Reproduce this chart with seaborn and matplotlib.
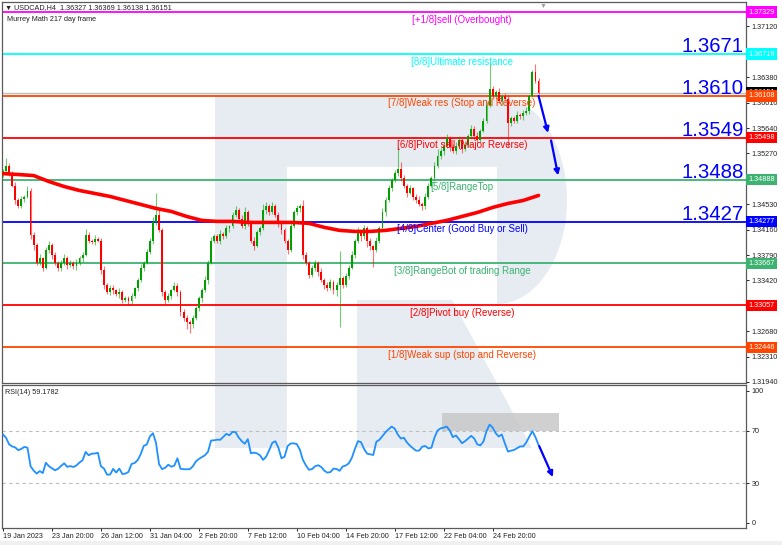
import matplotlib
matplotlib.use("Agg")
import matplotlib.pyplot as plt
import seaborn as sns
import numpy as np
from matplotlib.patches import Rectangle, Polygon

# ---- data ----
first_open = 1.3497
closes = [
    1.3502, 1.3509, 1.3499, 1.3480, 1.3459, 1.3451, 1.3461, 1.3464, 1.3473, 1.3408,
    1.3393, 1.3368, 1.3374, 1.3360, 1.3386, 1.3393, 1.3379, 1.3368, 1.3360, 1.3368,
    1.3374, 1.3364, 1.3368, 1.3363, 1.3368, 1.3374, 1.3379, 1.3408, 1.3400, 1.3398,
    1.3403, 1.3400, 1.3357, 1.3335, 1.3325, 1.3331, 1.3328, 1.3322, 1.3325, 1.3313,
    1.3316, 1.3312, 1.3319, 1.3331, 1.3342, 1.3360, 1.3368, 1.3383, 1.3400, 1.3427,
    1.3437, 1.3415, 1.3325, 1.3313, 1.3319, 1.3328, 1.3334, 1.3325, 1.3296, 1.3287,
    1.3281, 1.3278, 1.3287, 1.3302, 1.3316, 1.3328, 1.3342, 1.3368, 1.3400, 1.3406,
    1.3400, 1.3409, 1.3406, 1.3418, 1.3421, 1.3438, 1.3444, 1.3432, 1.3421, 1.3441,
    1.3427, 1.3400, 1.3392, 1.3412, 1.3418, 1.3444, 1.3451, 1.3441, 1.3450, 1.3437,
    1.3424, 1.3415, 1.3400, 1.3386, 1.3422, 1.3441, 1.3447, 1.3451, 1.3379, 1.3368,
    1.3350, 1.3360, 1.3368, 1.3354, 1.3342, 1.3335, 1.3331, 1.3339, 1.3328, 1.3335,
    1.3345, 1.3336, 1.3348, 1.3360, 1.3379, 1.3400, 1.3412, 1.3406, 1.3418, 1.3400,
    1.3392, 1.3386, 1.3400, 1.3418, 1.3441, 1.3459, 1.3476, 1.3488, 1.3499, 1.3505,
    1.3491, 1.3480, 1.3470, 1.3476, 1.3464, 1.3459, 1.3453, 1.3450, 1.3464, 1.3480,
    1.3491, 1.3509, 1.3524, 1.3531, 1.3538, 1.3549, 1.3537, 1.3531, 1.3538, 1.3546,
    1.3534, 1.3540, 1.3553, 1.3563, 1.3553, 1.3546, 1.3560, 1.3575, 1.3597, 1.3621,
    1.3611, 1.3616, 1.3604, 1.3611, 1.3607, 1.3572, 1.3578, 1.3575, 1.3583, 1.3581,
    1.3586, 1.3589, 1.3611, 1.3645, 1.36327, 1.36151]
# upper / lower shadows in pips
wick_up = [
    3, 11, 4, 2, 5, 3, 4, 2, 6, 4,
    5, 3, 6, 2, 4, 7, 3, 5, 2, 4,
    6, 3, 4, 2, 5, 3, 4, 9, 4, 3,
    5, 2, 4, 6, 3, 5, 4, 2, 6, 3,
    4, 3, 5, 2, 4, 6, 3, 5, 4, 7,
    33, 10, 4, 3, 5, 2, 6, 4, 3, 5,
    4, 3, 5, 2, 4, 3, 6, 4, 5, 3,
    4, 6, 3, 5, 2, 4, 7, 3, 5, 8,
    4, 3, 5, 4, 3, 9, 5, 3, 6, 4,
    5, 3, 4, 2, 6, 4, 5, 3, 8, 4,
    3, 5, 4, 2, 6, 3, 4, 5, 3, 4,
    40, 3, 5, 4, 6, 3, 8, 4, 5, 3,
    4, 2, 5, 3, 6, 4, 5, 3, 4, 31,
    10, 4, 3, 5, 2, 4, 6, 3, 5, 4,
    3, 6, 9, 4, 5, 6, 3, 4, 5, 6,
    4, 5, 3, 6, 4, 5, 3, 4, 5, 38,
    5, 4, 6, 3, 4, 5, 3, 4, 6, 3,
    4, 5, 3, 3, 13, 4]
wick_dn = [
    4, 3, 5, 2, 6, 4, 3, 5, 2, 5,
    6, 4, 3, 5, 2, 4, 6, 3, 5, 4,
    3, 5, 2, 4, 6, 3, 5, 2, 4, 3,
    4, 2, 6, 5, 3, 4, 6, 3, 5, 4,
    3, 6, 4, 2, 5, 3, 4, 2, 3, 5,
    4, 3, 6, 5, 3, 4, 2, 5, 6, 4,
    10, 13, 5, 3, 4, 6, 3, 5, 2, 4,
    3, 5, 4, 2, 6, 3, 4, 5, 3, 4,
    5, 3, 6, 2, 4, 3, 5, 4, 2, 3,
    4, 6, 3, 5, 2, 4, 3, 5, 6, 4,
    5, 3, 4, 6, 3, 5, 4, 3, 6, 8,
    61, 5, 3, 4, 2, 5, 3, 6, 4, 9,
    5, 25, 3, 4, 2, 5, 3, 4, 3, 5,
    4, 3, 6, 2, 5, 4, 3, 5, 4, 3,
    2, 4, 3, 5, 6, 3, 7, 4, 5, 3,
    6, 4, 3, 5, 6, 4, 3, 2, 4, 3,
    4, 5, 3, 6, 4, 36, 5, 4, 3, 4,
    5, 3, 4, 2, 3, 1]

ma_bars = list(range(0, 176, 5))
ma_values = [1.34977, 1.34963, 1.34948, 1.34861, 1.34788, 1.34730, 1.34687, 1.34643,
             1.34585, 1.34527, 1.34469, 1.34425, 1.34352, 1.34294, 1.34280, 1.34280,
             1.34265, 1.34265, 1.34265, 1.34265, 1.34251, 1.34193, 1.34149, 1.34134,
             1.34134, 1.34149, 1.34178, 1.34207, 1.34251, 1.34294, 1.34352, 1.34410,
             1.34483, 1.34541, 1.34585, 1.34658]

rsi = [
    67.0, 64.5, 59.5, 58.0, 57.2, 55.1, 56.2, 57.6, 57.0, 43.0,
    39.7, 37.4, 39.3, 37.8, 45.6, 43.0, 41.5, 39.9, 41.1, 43.3,
    45.2, 42.5, 43.1, 42.4, 43.6, 45.8, 47.5, 53.8, 51.3, 52.5,
    52.6, 53.2, 43.0, 41.2, 36.6, 36.7, 41.0, 38.2, 41.2, 37.1,
    37.4, 38.7, 44.7, 45.4, 47.6, 52.1, 58.4, 59.5, 65.5, 68.0,
    60.7, 44.5, 40.8, 41.8, 44.1, 42.6, 43.5, 49.0, 41.1, 40.7,
    40.7, 40.7, 42.8, 46.5, 48.5, 49.9, 51.3, 54.0, 62.5, 62.6,
    63.1, 63.0, 65.3, 67.5, 66.4, 69.0, 68.8, 64.8, 62.0, 60.0,
    63.5, 52.8, 53.3, 52.7, 51.2, 47.8, 50.3, 55.2, 60.7, 61.9,
    57.0, 49.0, 50.2, 58.2, 60.2, 60.3, 59.8, 55.5, 47.8, 43.5,
    40.3, 40.8, 43.0, 43.7, 42.4, 39.6, 38.1, 38.6, 41.2, 40.9,
    39.5, 42.8, 43.5, 45.2, 49.4, 56.1, 62.0, 61.2, 56.0, 52.5,
    52.0, 51.5, 61.5, 63.0, 65.8, 68.7, 71.0, 73.0, 71.5, 67.0,
    64.0, 64.5, 61.0, 58.5, 56.5, 54.8, 54.8, 57.8, 58.3, 56.5,
    57.0, 64.8, 70.0, 71.7, 72.2, 73.0, 70.0, 65.0, 66.3, 63.5,
    60.4, 62.0, 64.0, 66.0, 64.0, 59.5, 58.8, 61.7, 69.5, 74.5,
    72.3, 68.0, 65.5, 67.0, 60.3, 54.1, 54.8, 55.3, 56.7, 58.0,
    58.0, 61.0, 65.5, 69.5, 65.0, 59.1782]

murrey_levels = [1.37329, 1.36719, 1.36108, 1.35498, 1.34888, 1.34277, 1.33667, 1.33057, 1.32446]
murrey_labels = ["[+1/8]sell (Overbought)", "[8/8]Ultimate resistance",
                 "[7/8]Weak res (Stop and Reverse)", "[6/8]Pivot sell (Major Reverse)",
                 "[5/8]RangeTop", "[4/8]Center (Good Buy or Sell)",
                 "[3/8]RangeBot of trading Range", "[2/8]Pivot buy (Reverse)",
                 "[1/8]Weak sup (stop and Reverse)"]
murrey_colors = ["#ff00ff", "#00ffff", "#ff4500", "#ff0000", "#3cb371",
                 "#0000ff", "#3cb371", "#ff0000", "#ff4500"]
big_labels = ["1.3671", "1.3610", "1.3549", "1.3488", "1.3427"]
big_levels = [1.36719, 1.36108, 1.35498, 1.34888, 1.34277]
last_price = 1.36151
price_ticks = [1.3712, 1.3638, 1.3601, 1.3564, 1.3527, 1.3453, 1.3416,
               1.3379, 1.3342, 1.3268, 1.3231, 1.3194]
date_pos = [0, 16, 32, 48, 64, 80, 96, 112, 128, 144, 160]
date_labels = ["19 Jan 2023", "23 Jan 20:00", "26 Jan 12:00", "31 Jan 04:00",
               "2 Feb 20:00", "7 Feb 12:00", "10 Feb 04:00", "14 Feb 20:00",
               "17 Feb 12:00", "22 Feb 04:00", "24 Feb 20:00"]
price_arrows = [((175.0, 1.3611), (178.1, 1.3557)), ((179.1, 1.3546), (181.4, 1.3495))]
rsi_arrow = ((175.2, 58.3), (179.7, 34.8))
rsi_box = (143.5, 181.7, 70, 83)

# ---- figure ----
sns.set_theme(style="white")
plt.rcParams['font.family'] = ['Liberation Sans', 'DejaVu Sans']
W, H = 782, 545
SMALL = 5.2
fig = plt.figure(figsize=(W / 100, H / 100), dpi=100)
fig.patch.set_facecolor("white")


def px(x, y):
    return (x / W, 1 - y / H)


# faint logo watermark behind both panels
wm = "#e7ecf3"
fig.add_artist(Polygon([px(215, 96), px(287, 96), px(287, 448), px(215, 448)],
                       closed=True, fc=wm, ec="none", transform=fig.transFigure, zorder=-2))
t = np.linspace(-np.pi / 2, np.pi / 2, 40)
arc = [px(497 + 70 * np.cos(a), 200 + 104 * np.sin(a)) for a in t]
fig.add_artist(Polygon([px(287, 96)] + arc + [px(497, 167), px(287, 167)],
                       closed=True, fc=wm, ec="none", transform=fig.transFigure, zorder=-2))
fig.add_artist(Polygon([px(357, 300), px(452, 300), px(532, 448), px(357, 448)],
                       closed=True, fc=wm, ec="none", transform=fig.transFigure, zorder=-2))
fig.add_artist(Rectangle(px(0, 545), 1, 4 / H, fc="#f0f0f0", ec="none",
                         transform=fig.transFigure, zorder=-2))

ax = fig.add_axes([2 / W, 1 - 383 / H, 744 / W, 381 / H])
ax2 = fig.add_axes([2 / W, 1 - 528 / H, 744 / W, 143 / H])
for a in (ax, ax2):
    a.set_facecolor("none")
    for s in a.spines.values():
        s.set_color("#5a5a5a")
        s.set_linewidth(0.9)
    a.set_xlim(-0.33, 242.8)

# candles
n = len(closes)
idx = np.arange(n)
o = np.array([first_open] + closes[:-1])
c = np.array(closes)
hi = np.maximum(o, c) + np.array(wick_up) * 1e-4
lo = np.minimum(o, c) - np.array(wick_dn) * 1e-4
col = np.where(c >= o, "#00a000", "#ff0000")
ax.vlines(idx, lo, hi, colors=col, lw=0.8, alpha=0.55, zorder=3)
ax.bar(idx, np.maximum(np.abs(c - o), 0.00004), bottom=np.minimum(o, c),
       width=0.62, color=col, linewidth=0, zorder=4)

sns.lineplot(x=ma_bars, y=ma_values, ax=ax, color="#ff0000", lw=2.6, zorder=5)

# Murrey lines
ax.axhline(last_price, color="#c0c0c0", lw=1, zorder=2)
for lvl, lab, colr in zip(murrey_levels, murrey_labels, murrey_colors):
    ax.axhline(lvl, color=colr, lw=1.3, zorder=2)
    ax.annotate(lab, xy=(150, lvl), xytext=(0, -1.8), textcoords="offset points",
                ha="center", va="top", fontsize=7, color=colr, zorder=6)
for lvl, txt in zip(big_levels, big_labels):
    ax.annotate(txt, xy=(1.0, lvl), xycoords=("axes fraction", "data"),
                xytext=(-1.6, 1.3), textcoords="offset points",
                ha="right", va="baseline", fontsize=14.7, color="#0000ff", zorder=6)

ax.set_ylim(1.31925, 1.37477)
ax.yaxis.tick_right()
ax.set_yticks(price_ticks)
ax.set_yticklabels([f"{v:.5f}" for v in price_ticks])
ax.tick_params(axis="y", right=True, length=2.2, width=0.7, pad=2, labelsize=SMALL,
               colors="#222222")
ax.set_xticks([])

# coloured price tags on the scale
tag_levels = [last_price] + murrey_levels
tag_colors = ["#000000"] + murrey_colors
for lvl, colr in zip(tag_levels, tag_colors):
    ax.text(1.0035, lvl, f"{lvl:.5f}", transform=ax.get_yaxis_transform(),
            ha="left", va="center", fontsize=SMALL, color="white", clip_on=False,
            bbox=dict(boxstyle="square,pad=0.3", fc=colr, ec="none"), zorder=7)

for start, end in price_arrows:
    ax.annotate("", xy=end, xytext=start,
                arrowprops=dict(arrowstyle="-|>", color="#0000ff", lw=1.6,
                                mutation_scale=8, shrinkA=0, shrinkB=0), zorder=8)

ax.text(0.004, 0.995, "\u25bc USDCAD,H4  1.36327 1.36369 1.36138 1.36151",
        transform=ax.transAxes, ha="left", va="top", fontsize=SMALL, color="#222222")
ax.text(0.007, 0.962, "Murrey Math 217 day frame", transform=ax.transAxes,
        ha="left", va="top", fontsize=SMALL, color="#222222")
ax.text(176.5, 1.3746, "\u25bc", ha="center", va="top", fontsize=5, color="#a0a0a0")

# RSI panel
x0, x1, y0, y1 = rsi_box
ax2.add_patch(Rectangle((x0, y0), x1 - x0, y1 - y0, fc="#c8c8c8", ec="none",
                        alpha=0.85, zorder=1))
ax2.axhline(70, color="#bdbdbd", lw=0.8, ls=(0, (3, 3)), zorder=1)
ax2.axhline(30, color="#bdbdbd", lw=0.8, ls=(0, (3, 3)), zorder=1)
sns.lineplot(x=idx, y=rsi, ax=ax2, color="#1e90ff", lw=1.3, zorder=3)
ax2.annotate("", xy=rsi_arrow[1], xytext=rsi_arrow[0],
             arrowprops=dict(arrowstyle="-|>", color="#0000ff", lw=1.6,
                             mutation_scale=8, shrinkA=0, shrinkB=0), zorder=8)
ax2.set_ylim(-3.8, 104.5)
ax2.yaxis.tick_right()
ax2.set_yticks([0, 30, 70, 100])
ax2.tick_params(axis="y", right=True, length=2.2, width=0.7, pad=2, labelsize=SMALL,
                colors="#222222")
ax2.set_xticks(date_pos)
ax2.set_xticklabels(date_labels)
ax2.tick_params(axis="x", bottom=True, length=2.2, width=0.7, pad=1.5, labelsize=SMALL,
                colors="#222222")
for lbl in ax2.get_xticklabels():
    lbl.set_ha("left")
ax2.set_xlabel("")
ax2.set_ylabel("")
ax.set_ylabel("")
ax2.text(0.004, 0.97, "RSI(14) 59.1782", transform=ax2.transAxes, ha="left", va="top",
         fontsize=SMALL, color="#222222")

fig.savefig("out.png", dpi=100)
plt.close(fig)
